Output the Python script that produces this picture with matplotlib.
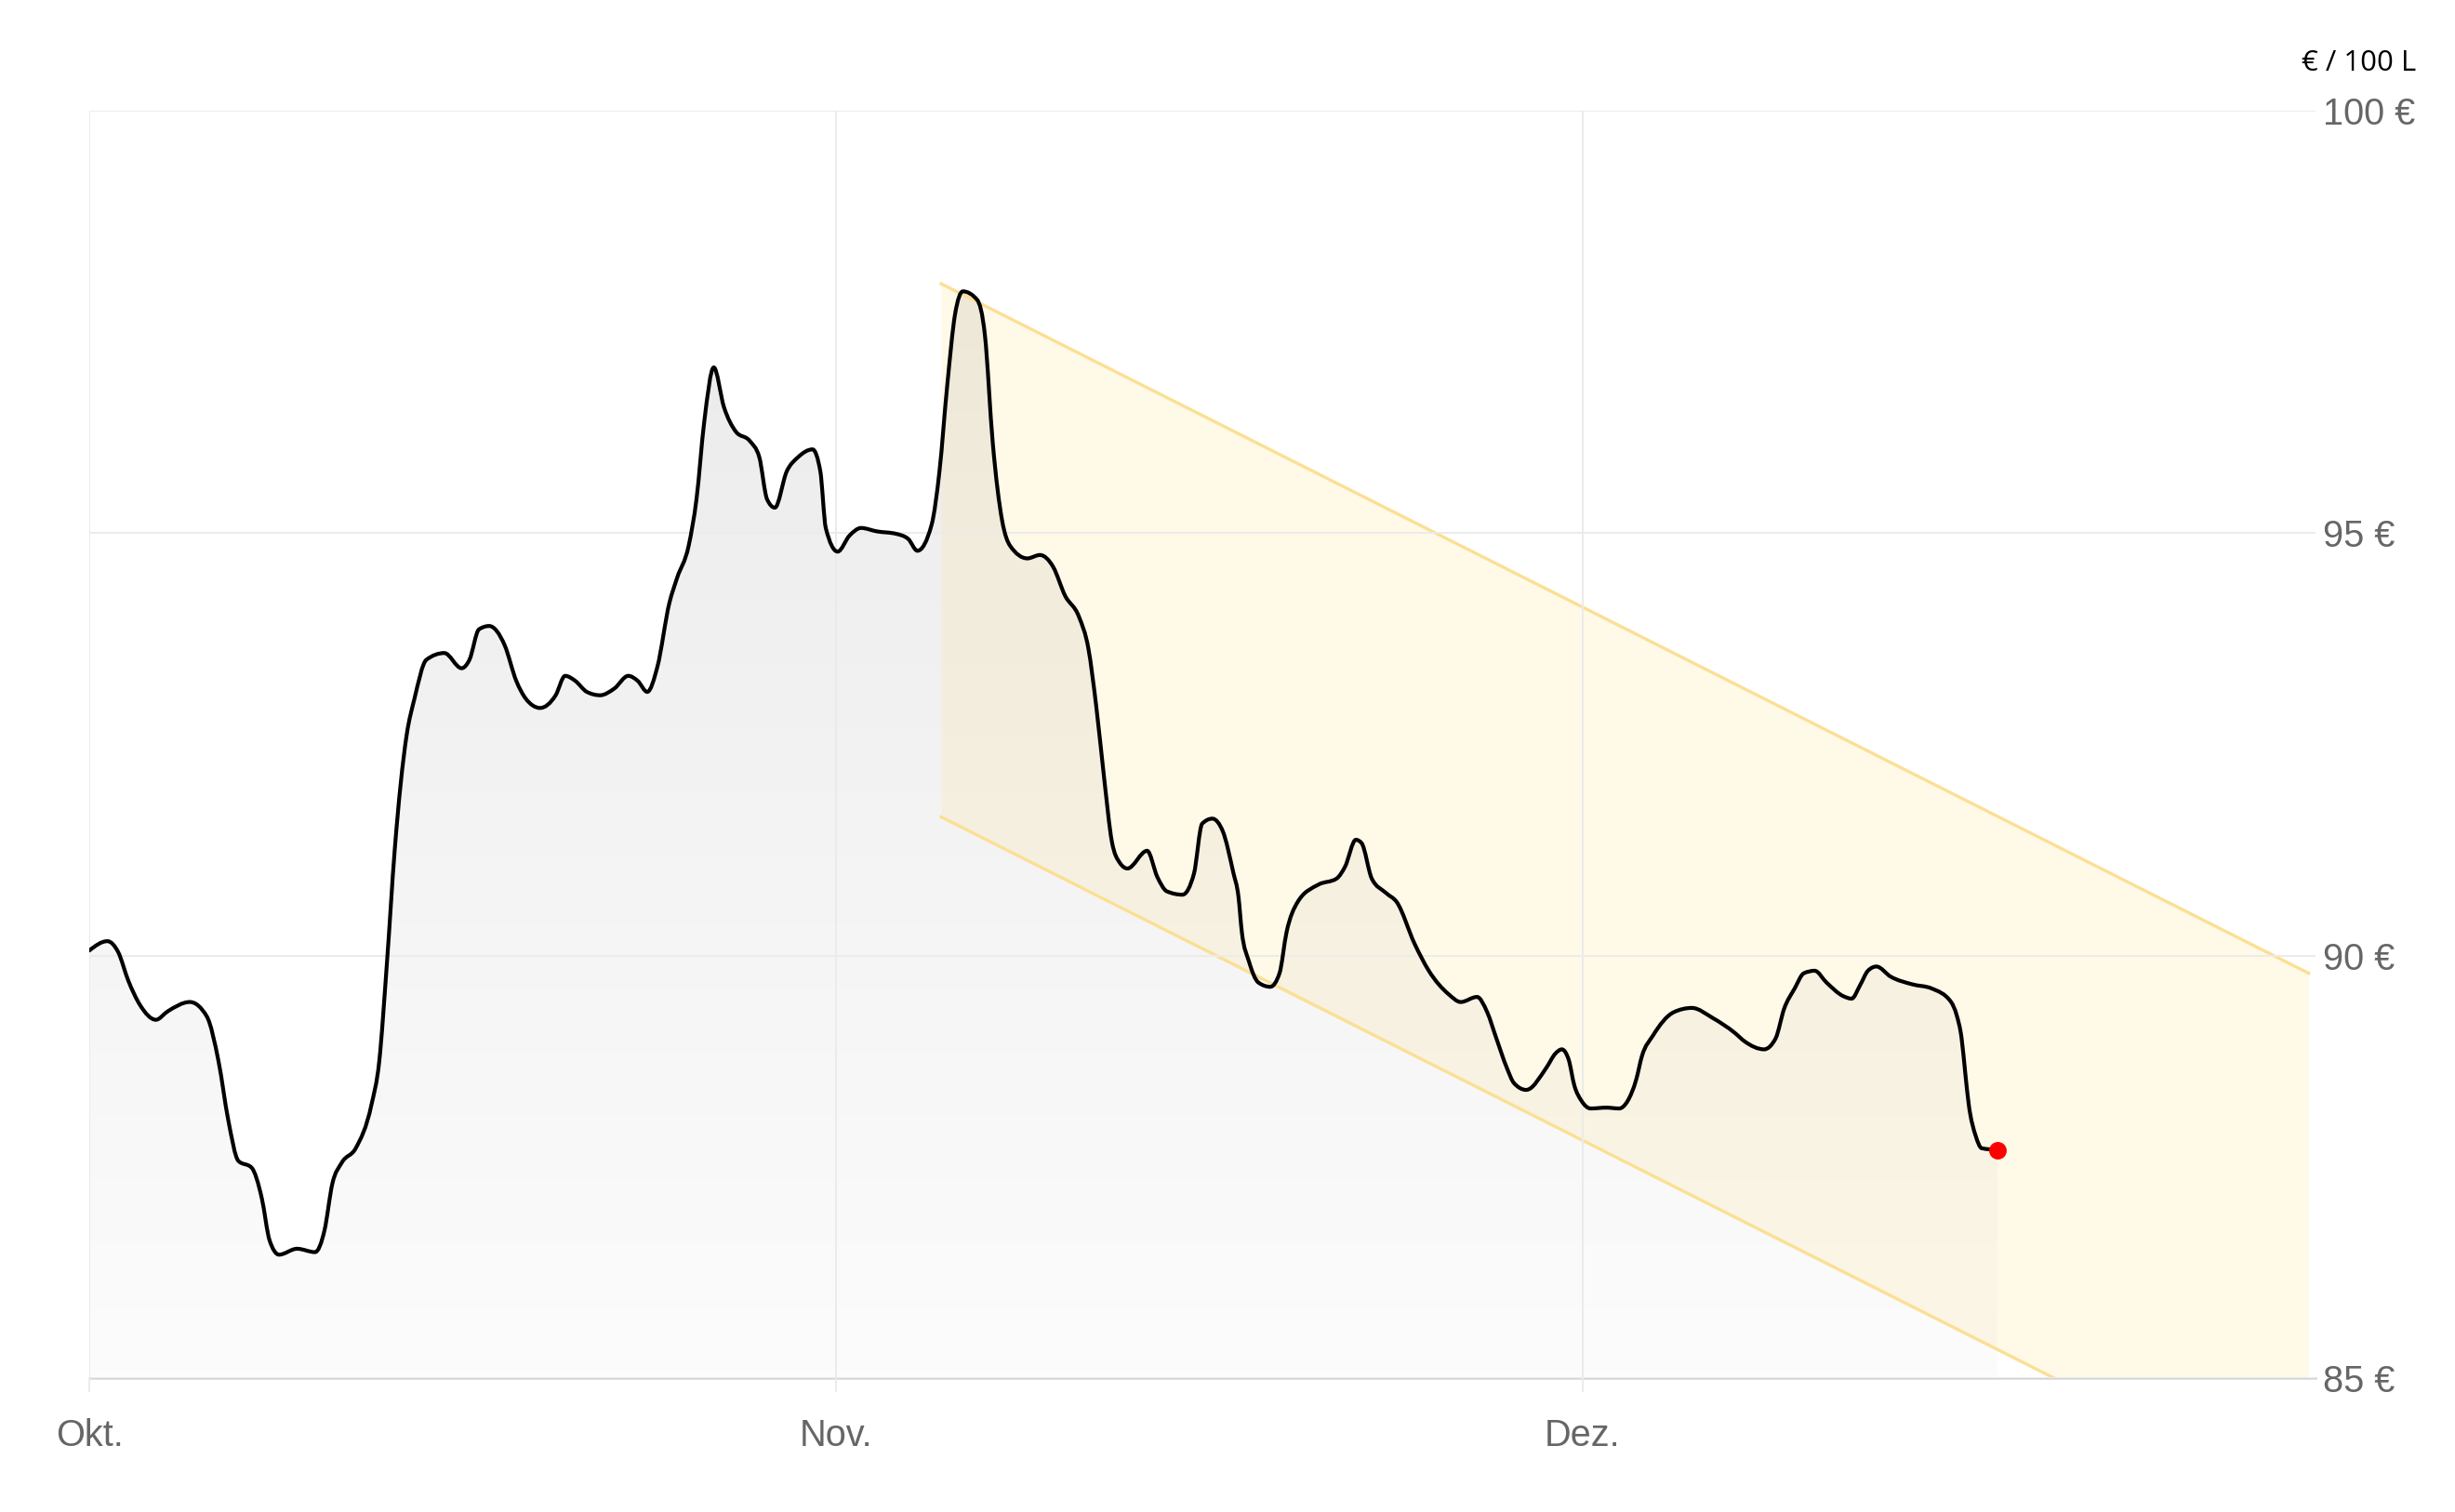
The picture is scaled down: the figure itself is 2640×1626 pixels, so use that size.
import numpy as np
import matplotlib
matplotlib.use('Agg')
import matplotlib.pyplot as plt
from matplotlib.path import Path
from matplotlib.patches import PathPatch
from matplotlib.colors import LinearSegmentedColormap

# trading-day position (0 = 1. Okt.) and price in EUR / 100 L
days = [0.00, 0.53, 0.85, 1.15, 1.50, 1.96, 2.31, 2.96, 3.46, 3.81,
        4.09, 4.39, 4.78, 5.08, 5.31, 5.59, 6.12, 6.65, 6.93, 7.16,
        7.44, 7.85, 8.31, 8.54, 8.77, 9.00, 9.35, 9.58, 9.93, 10.46,
        10.97, 11.20, 11.48, 11.78, 12.24, 12.58, 12.86, 13.28, 13.74, 14.02,
        14.32, 14.66, 15.05, 15.47, 15.88, 16.16, 16.44, 16.74, 17.09, 17.32,
        17.66, 17.89, 18.12, 18.40, 18.70, 19.05, 19.46, 19.74, 19.97, 20.20,
        20.55, 20.89, 21.31, 21.54, 21.70, 22.05, 22.40, 22.74, 23.20, 23.78,
        24.13, 24.40, 24.82, 25.05, 25.28, 25.51, 25.74, 26.16, 26.39, 26.62,
        26.90, 27.13, 27.64, 28.01, 28.40, 28.75, 29.16, 29.44, 29.67, 29.90,
        30.13, 30.36, 30.59, 31.17, 31.47, 31.75, 32.21, 32.55, 32.79, 33.09,
        33.40, 33.71, 33.86, 33.96, 34.17, 34.45, 34.80, 35.07, 35.28, 35.60,
        36.22, 36.75, 37.00, 37.32, 37.49, 37.79, 38.21, 38.53, 39.05, 39.47,
        40.06, 40.41, 40.89, 41.19, 41.46, 41.77, 41.98, 42.34, 42.93, 43.20,
        43.39, 43.59, 43.76, 43.97, 44.24, 44.70, 45.08, 45.33, 45.58, 45.75,
        46.07, 46.69, 47.22, 47.84, 48.47, 48.79, 49.35, 49.69, 49.94, 50.25,
        50.52, 50.84, 51.19, 51.68, 51.93, 52.18, 52.41, 52.66, 53.08, 53.71,
        54.29, 54.86, 55.02, 55.17, 55.28, 55.38, 55.59, 55.76, 56.22]
price = [90.06, 90.17, 90.04, 89.70, 89.41, 89.24, 89.34, 89.45, 89.28, 88.74,
         88.06, 87.57, 87.49, 87.13, 86.63, 86.46, 86.53, 86.49, 86.75, 87.30,
         87.55, 87.72, 88.23, 88.74, 89.92, 91.26, 92.61, 93.04, 93.50, 93.58,
         93.40, 93.50, 93.86, 93.90, 93.67, 93.25, 93.04, 92.93, 93.08, 93.31,
         93.25, 93.12, 93.08, 93.16, 93.31, 93.25, 93.12, 93.42, 94.17, 94.47,
         94.85, 95.40, 96.32, 96.96, 96.49, 96.20, 96.09, 95.90, 95.40, 95.30,
         95.73, 95.90, 95.99, 95.73, 95.06, 94.78, 94.97, 95.06, 95.02, 94.99,
         94.93, 94.79, 95.10, 95.73, 96.75, 97.59, 97.86, 97.76, 97.34, 96.07,
         95.14, 94.85, 94.70, 94.74, 94.60, 94.26, 94.01, 93.63, 92.95, 92.11,
         91.35, 91.10, 91.03, 91.24, 90.93, 90.76, 90.72, 90.97, 91.56, 91.62,
         91.47, 90.98, 90.70, 90.28, 89.93, 89.68, 89.63, 89.79, 90.28, 90.63,
         90.84, 90.91, 91.05, 91.37, 91.33, 90.91, 90.74, 90.63, 90.14, 89.82,
         89.54, 89.45, 89.51, 89.33, 89.02, 88.67, 88.49, 88.41, 88.67, 88.84,
         88.89, 88.77, 88.46, 88.28, 88.19, 88.20, 88.19, 88.28, 88.53, 88.81,
         89.05, 89.33, 89.38, 89.26, 89.09, 88.98, 88.89, 89.02, 89.37, 89.61,
         89.79, 89.82, 89.68, 89.52, 89.49, 89.65, 89.82, 89.87, 89.75, 89.66,
         89.61, 89.45, 89.30, 89.02, 88.60, 88.24, 87.86, 87.72, 87.70]

month_pos = [0, 22, 44]
month_labels = ['Okt.', 'Nov.', 'Dez.']
y_ticks = [85, 90, 95, 100]
y_labels = ['85 €', '90 €', '95 €', '100 €']

# trend channel
trend_days = [25.1, 65.4]
trend_upper = [97.95, 89.79]
trend_lower = [91.64, 83.48]


def smooth_path(x, y):
    # monotone-x cubic bezier through the points (same idea as d3 curveMonotoneX)
    x = np.asarray(x, float)
    y = np.asarray(y, float)
    h = np.diff(x)
    s = np.diff(y) / h
    m = np.zeros(len(x))
    for i in range(1, len(x) - 1):
        p = (s[i - 1] * h[i] + s[i] * h[i - 1]) / (h[i - 1] + h[i])
        m[i] = (np.sign(s[i - 1]) + np.sign(s[i])) * min(abs(s[i - 1]), abs(s[i]), 0.5 * abs(p))
    m[0] = (3 * s[0] - m[1]) / 2
    m[-1] = (3 * s[-1] - m[-2]) / 2
    verts = [(x[0], y[0])]
    codes = [Path.MOVETO]
    for i in range(len(x) - 1):
        dx = h[i] / 3
        verts += [(x[i] + dx, y[i] + dx * m[i]),
                  (x[i + 1] - dx, y[i + 1] - dx * m[i + 1]),
                  (x[i + 1], y[i + 1])]
        codes += [Path.CURVE4] * 3
    return verts, codes


fig = plt.figure(figsize=(13.2, 8.13), dpi=200)
ax = fig.add_axes([0.0364, 0.0886, 0.9068, 0.8383])

line_verts, line_codes = smooth_path(days, price)

# grey gradient under the price line
grad = np.linspace(0, 1, 256).reshape(-1, 1)
cmap = LinearSegmentedColormap.from_list('g', ['#fcfcfc', '#ebebeb'])
im = ax.imshow(grad, cmap=cmap, aspect='auto', origin='lower',
               extent=[days[0], days[-1], 85, 98], zorder=0.5)
area = Path([(days[0], 85)] + line_verts + [(days[-1], 85), (days[0], 85)],
            [Path.MOVETO, Path.LINETO] + line_codes[1:] + [Path.LINETO, Path.CLOSEPOLY])
area_patch = PathPatch(area, facecolor='none', edgecolor='none')
ax.add_patch(area_patch)
im.set_clip_path(area_patch)

ax.fill_between(trend_days, trend_lower, trend_upper, color='#ffe08a',
                alpha=0.19, lw=0, zorder=2)
ax.plot(trend_days, trend_upper, color='#fbdf94', lw=1.2, zorder=2.2)
ax.plot(trend_days, trend_lower, color='#fbdf94', lw=1.2, zorder=2.2)

ax.add_patch(PathPatch(Path(line_verts, line_codes), facecolor='none',
                       edgecolor='black', lw=1.5, zorder=4, joinstyle='round',
                       capstyle='round'))
ax.plot(days[-1], price[-1], 'o', color='#ff0000', ms=6.8, mec='none', zorder=5)

ax.set_xlim(0, 65.6)
ax.set_ylim(85, 100)

ax.set_xticks(month_pos)
ax.set_xticklabels(month_labels)
ax.set_yticks(y_ticks)
ax.set_yticklabels(y_labels)
ax.yaxis.tick_right()
ax.grid(True, color='#ebebeb', lw=0.7, zorder=1.5)
ax.set_axisbelow(False)
for s in ['top', 'left', 'right']:
    ax.spines[s].set_visible(False)
ax.spines['bottom'].set_color('#d6d6da')
ax.spines['bottom'].set_linewidth(0.9)

for lab in ax.get_xticklabels() + ax.get_yticklabels():
    lab.set_family(['Liberation Sans', 'DejaVu Sans'])
ax.tick_params(axis='x', length=5.4, width=0.7, color='#ebebeb',
               labelsize=14.3, labelcolor='#666666', pad=10)
ax.tick_params(axis='y', length=0, labelsize=14.3, labelcolor='#666666', pad=3)

fig.text(0.984, 0.958, '€ / 100 L', ha='right', va='center', fontsize=11.2,
         color='black', family=['Open Sans', 'DejaVu Sans'])

fig.savefig('out.png', dpi=200)
